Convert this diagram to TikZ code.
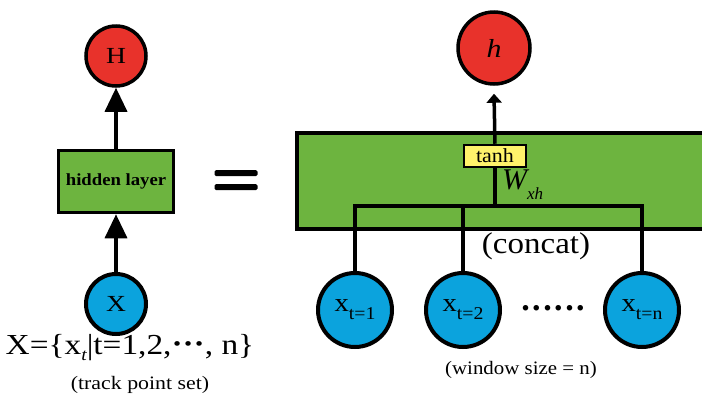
\documentclass[tikz,border=0pt]{standalone}
\usepackage{fontspec}
\usepackage{graphicx}
\setmainfont{Liberation Serif}
\usetikzlibrary{arrows.meta}
\definecolor{cred}{HTML}{E8322B}
\definecolor{cblue}{HTML}{0BA3DD}
\definecolor{cgreen}{HTML}{6DB43F}
\definecolor{cyel}{HTML}{FFF36B}
\newcommand{\wide}[2][1.2]{\scalebox{#1}[1]{#2}}
\newcommand{\fs}[1]{\fontsize{#1}{#1}\selectfont}
\tikzset{
  redc/.style={circle,draw=black,line width=3.5pt,fill=cred,inner sep=0pt},
  bluec/.style={circle,draw=black,line width=4pt,fill=cblue,inner sep=0pt},
  gbox/.style={draw=black,line width=3.5pt,fill=cgreen,inner sep=0pt},
  wire/.style={line width=3.5pt},
  bigarr/.style={line width=3.5pt,-{Triangle[width=22pt,length=24pt]}},
  smallarr/.style={line width=3.5pt,-{Triangle[width=15pt,length=9pt]}},
  bar/.style={fill=black,minimum width=43pt,minimum height=6pt,inner sep=0pt,rounded corners=1.5pt},
}
\begin{document}
\begin{tikzpicture}[x=1pt,y=-1pt]
\useasboundingbox (0,0) rectangle (702,394);
\begin{scope}
\clip (0,0) rectangle (702,394);
% big green box
\node[gbox,minimum width=430pt,minimum height=96pt,anchor=north west] (big) at (295,131) {};
\end{scope}
% left side
\node[redc,minimum size=60pt] (H) at (116,56) {\wide{\fs{23}H}};
\node[gbox,minimum width=115pt,minimum height=62pt] (hid) at (116,181.5) {\wide[1.1]{\fs{17}\bfseries hidden layer}};
\node[bluec,minimum size=60pt] (X) at (116,304) {\wide{\fs{23}X}};
\draw[bigarr] (hid.north) -- (H.south);
\draw[bigarr] (X.north) -- (hid.south);
\node (set) at (130,348) {\wide[1.15]{\fs{29}X=\{x\raisebox{-6pt}{\fs{17}\itshape t}|t=1,2,\raisebox{1pt}{\bfseries ···}, n\}}};
\node (track) at (140,385) {\wide[1.15]{\fs{19}(track point set)}};
% equals sign
\node[bar] (eq1) at (236,173) {};
\node[bar] (eq2) at (236,187) {};
% right side
\node[redc,minimum size=72pt] (h) at (494,48) {\wide[1.15]{\fs{26}\itshape h}};
\node[draw=black,line width=2.5pt,fill=cyel,minimum width=62pt,minimum height=22pt,inner sep=0pt] (tanh) at (495,156) {\wide[1.1]{\fs{20}tanh}};
\draw[smallarr] (tanh.north) -- ([yshift=-8pt]h.south);
\coordinate (j) at (495,206);
\node[anchor=west,inner sep=0pt] (W) at (502,185) {\fs{30}\itshape W\raisebox{-10pt}{\fs{17}xh}};
\node[bluec,minimum size=74pt] (x1) at (355,310) {\wide[1.1]{\fs{26}x\raisebox{-8pt}{\fs{18}t=1}}};
\node[bluec,minimum size=74pt] (x2) at (463,310) {\wide[1.1]{\fs{26}x\raisebox{-8pt}{\fs{18}t=2}}};
\node[bluec,minimum size=74pt] (xn) at (642,310) {\wide[1.1]{\fs{26}x\raisebox{-8pt}{\fs{18}t=n}}};
\draw[wire] (tanh.south) -- (j);
\draw[wire] (x1.north) -- (x1.north |- j) -- (xn.north |- j) -- (xn.north);
\draw[wire] (x2.north) -- (x2.north |- j);
\node (concat) at (536,246) {\wide[1.1]{\fs{30}(concat)}};
\node (dots) at (553,308) {\fs{34}\bfseries .\kern2.5pt.\kern2.5pt.\kern2.5pt.\kern2.5pt.\kern2.5pt.};
\node (win) at (521,370) {\wide[1.1]{\fs{19}(window size = n)}};
\end{tikzpicture}
\end{document}
